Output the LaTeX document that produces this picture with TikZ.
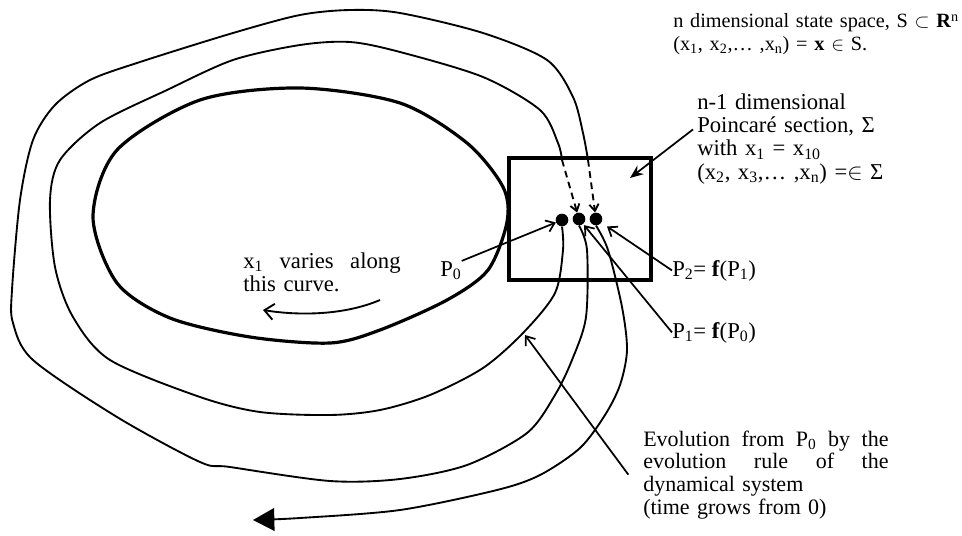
\documentclass[tikz,border=0pt]{standalone}
\usepackage{fontspec}
\setmainfont{Liberation Serif}
\usetikzlibrary{arrows.meta}
\newcommand\sbs[1]{\textsubscript{#1}}
\newcommand\jline[2]{\makebox[#1][s]{\spaceskip=0pt\relax #2}}
\tikzset{
  orbit/.style={line width=1.4pt},
  limit/.style={line width=2.4pt},
  ptr/.style={line width=1.3pt,-{Straight Barb[length=6pt,width=9pt]}},
  hop/.style={line width=1.4pt,dash pattern=on 5pt off 3.5pt,-{Straight Barb[length=5pt,width=7pt]}},
  dot/.style={circle,fill,inner sep=0pt,minimum size=9.5pt},
  txt/.style={inner sep=0pt,anchor=base west,align=left},
}

\begin{document}
\begin{tikzpicture}[x=0.75pt,y=-0.75pt]
  \useasboundingbox (0,0) rectangle (962,535);
  % section and the three crossings
  \node[draw,line width=2.6pt,minimum width=106.5pt,minimum height=91.5pt,inner sep=0pt] (sec) at (580,219) {};
  \node[dot] (p0) at (562,220) {};
  \node[dot] (p1) at (579,219) {};
  \node[dot] (p2) at (596,219) {};
  \coordinate (in1) at (562,160);
  \coordinate (in2) at (588,160);

  % closed orbit
  \draw[limit] plot[smooth cycle] coordinates {(93,217) (117,150) (200,100) (300,88) (400,103) (467,143) (503,187) (507,222) (488,270) (447,300) (380,330) (330,343) (250,337) (170,318) (117,283)};

  % P0 -> P1
  \draw[orbit] plot[smooth] coordinates {(p0.south) (563,250) (555,293) (523,333) (483,368) (430,395) (380,410) (330,415) (260,412) (200,397) (110,360) (73,317) (55,267) (50,200) (60,160) (100,123) (167,90) (233,60) (300,45) (350,42) (400,52) (483,77) (540,110) (558,143) (in1)};
  \draw[hop] (in1) -- (p1);
  % P1 -> P2
  \draw[orbit] plot[smooth] coordinates {(p1.south) (587,250) (586,317) (572,360) (555,395) (527,433) (467,465) (400,479) (330,481) (230,467) (200,462) (117,417) (33,360) (13,323) (12,290) (20,200) (33,140) (55,105) (90,80) (140,62) (233,33) (300,15) (350,10) (400,13) (483,33) (547,60) (573,97) (583,133) (in2)};
  \draw[hop] (in2) -- (p2);
  % P2 -> on
  \draw[orbit,-{Triangle[length=16pt,width=17pt]}] plot[smooth] coordinates {(p2.south) (608,250) (622,307) (627,350) (620,385) (605,415) (580,448) (540,475) (497,490) (400,510) (300,518) (253,520)};

  % labels
  \node[txt,font=\fontsize{15.2}{17}\selectfont,text width=220pt] (lspace) at (673,28)
    {n dimensional state space, S $\subset$ \textbf{R}\textsuperscript{n}\\(x\sbs{1}, x\sbs{2},… ,x\sbs{n}) = \textbf{x} $\in$ S.};
  \node[txt,font=\fontsize{17}{17.6}\selectfont,text width=170pt] (lsec) at (697,109)
    {n-1 dimensional\\Poincaré section, Σ\\with x\sbs{1} = x\sbs{10}\\(x\sbs{2}, x\sbs{3},… ,x\sbs{n}) =$\in$ Σ};
  \node[txt,font=\fontsize{17}{17.5}\selectfont,text width=118pt] (lvary) at (243,268)
    {\jline{118pt}{x\sbs{1} varies along}\\this curve.};
  \node[txt,font=\fontsize{16.5}{17}\selectfont,text width=184pt] (levo) at (643,446)
    {\jline{184pt}{Evolution from P\sbs{0} by the}\\\jline{184pt}{evolution rule of the}\\dynamical system\\(time grows from 0)};
  \node[txt,font=\fontsize{17}{17}\selectfont] (lp0) at (440,276) {P\sbs{0}};
  \node[txt,font=\fontsize{17}{17}\selectfont] (lp2) at (672,276) {P\sbs{2}= \textbf{f}(P\sbs{1})};
  \node[txt,font=\fontsize{17}{17}\selectfont] (lp1) at (672,338) {P\sbs{1}= \textbf{f}(P\sbs{0})};

  % pointers
  \coordinate (sectip) at (630,178);
  \coordinate (evtip) at (525,335);
  \coordinate (va) at (380,300);
  \coordinate (vb) at (263,310);
  \draw[line width=1.3pt,-{Stealth[length=10pt,width=8pt]}] ([xshift=-3pt,yshift=7pt]lsec.west) -- (sectip);
  \draw[ptr] (lp0.north east) -- (p0);
  \draw[ptr,shorten >=5pt] (lp2.west) -- (p2);
  \draw[ptr,shorten >=1pt] (lp1.west) -- (p1);
  \draw[ptr] ([xshift=-11pt]levo.west) -- (evtip);
  \draw[orbit,-{Straight Barb[length=7pt,width=12pt]}] (va) .. controls (345,315) and (300,316) .. (vb);
\end{tikzpicture}
\end{document}
